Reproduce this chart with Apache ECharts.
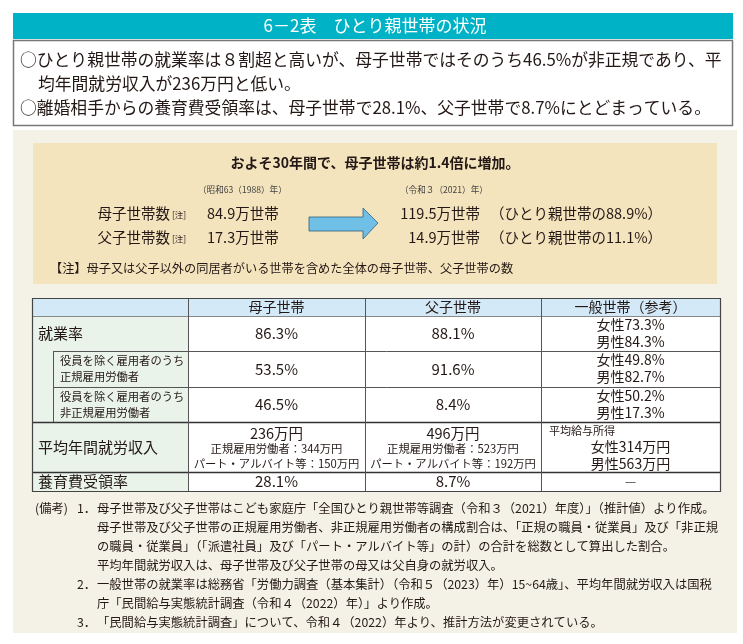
<!DOCTYPE html>
<html>
<head>
<meta charset="utf-8">
<script src="https://cdn.jsdelivr.net/npm/echarts@6/dist/echarts.min.js"></script>
<style>
  html, body { margin: 0; padding: 0; background: #fff; }
  #chart { width: 743px; height: 644px; }
</style>
</head>
<body>
<div id="chart"></div>
<script>
// data
const titleText = '6－2表　ひとり親世帯の状況'
const summaryLines = [
  '○ひとり親世帯の就業率は８割超と高いが、母子世帯ではそのうち46.5%が非正規であり、平',
  '均年間就労収入が236万円と低い。',
  '○離婚相手からの養育費受領率は、母子世帯で28.1%、父子世帯で8.7%にとどまっている。'
]
const trendHeading = 'およそ30年間で、母子世帯は約1.4倍に増加。'
const trendYears = ['（昭和63（1988）年）', '（令和３（2021）年）']
const householdTypes = ['母子世帯数', '父子世帯数']
const households1988 = ['84.9万世帯', '17.3万世帯']
const households2021 = ['119.5万世帯', '14.9万世帯']
const shareOfSingleParent = ['88.9%', '11.1%']
const trendNote = '【注】母子又は父子以外の同居者がいる世帯を含めた全体の母子世帯、父子世帯の数'

const columns = ['母子世帯', '父子世帯', '一般世帯（参考）']
const rowLabels = ['就業率', '役員を除く雇用者のうち\n正規雇用労働者', '役員を除く雇用者のうち\n非正規雇用労働者', '平均年間就労収入', '養育費受領率']
const motherValues = ['86.3%', '53.5%', '46.5%', '236万円', '28.1%']
const fatherValues = ['88.1%', '91.6%', '8.4%', '496万円', '8.7%']
const generalFemale = ['女性73.3%', '女性49.8%', '女性50.2%', '女性314万円']
const generalMale = ['男性84.3%', '男性82.7%', '男性17.3%', '男性563万円']
const generalIncomeLabel = '平均給与所得'
const generalChildSupport = '－'
const motherIncomeDetail = ['正規雇用労働者：344万円', 'パート・アルバイト等：150万円']
const fatherIncomeDetail = ['正規雇用労働者：523万円', 'パート・アルバイト等：192万円']

const notes = [
  ['(備考)', '1．', '母子世帯及び父子世帯はこども家庭庁「全国ひとり親世帯等調査（令和３（2021）年度）」（推計値）より作成。'],
  ['', '', '母子世帯及び父子世帯の正規雇用労働者、非正規雇用労働者の構成割合は、「正規の職員・従業員」及び「非正規'],
  ['', '', 'の職員・従業員」（「派遣社員」及び「パート・アルバイト等」の計）の合計を総数として算出した割合。'],
  ['', '', '平均年間就労収入は、母子世帯及び父子世帯の母又は父自身の就労収入。'],
  ['', '2．', '一般世帯の就業率は総務省「労働力調査（基本集計）（令和５（2023）年）15~64歳」、平均年間就労収入は国税'],
  ['', '', '庁「民間給与実態統計調査（令和４（2022）年）」より作成。'],
  ['', '3．', '「民間給与実態統計調査」について、令和４（2022）年より、推計方法が変更されている。']
]

const FONT = '"Noto Sans CJK JP", "Noto Sans", sans-serif'
const TEXT = '#231815'
const LINE = '#555'

const chart = echarts.init(document.getElementById('chart'))

function text(x, y, str, size, opts) {
  opts = opts || {}
  return {
    type: 'text',
    x: x,
    y: y,
    z: 10,
    style: {
      text: str,
      fill: opts.fill || TEXT,
      font: (opts.weight || 'normal') + ' ' + size + 'px ' + FONT,
      textAlign: opts.align || 'left',
      textVerticalAlign: 'middle'
    }
  }
}
function rect(x, y, w, h, fill, stroke, lw) {
  return {
    type: 'rect',
    shape: { x: x, y: y, width: w, height: h },
    style: { fill: fill, stroke: stroke || null, lineWidth: lw || 0 }
  }
}
function line(x1, y1, x2, y2, lw, color) {
  return {
    type: 'line',
    z: 5,
    shape: { x1: x1, y1: y1, x2: x2, y2: y2 },
    style: { stroke: color || LINE, lineWidth: lw || 1 }
  }
}

const g = []

// title bar + summary box
g.push(rect(13, 13, 720, 26, '#00b2c6'))
g.push(text(375, 26, titleText, 17, { fill: '#fff', align: 'center' }))
g.push(rect(13.5, 40.5, 719, 85, '#fff', '#777', 1.5))
summaryLines.forEach((s, i) => {
  g.push(text(i === 1 ? 38 : 20, 60 + i * 24, s, 16.8))
})

// beige panel and yellow trend box
g.push(rect(13, 130, 724, 503, '#f4f1e6'))
g.push(rect(33, 143, 684, 141, '#f4e4be'))
g.push(text(375, 163, trendHeading, 14, { weight: 'bold', align: 'center' }))
g.push(text(198, 190, trendYears[0], 8.6, { fill: '#444' }))
g.push(text(400, 190, trendYears[1], 8.6, { fill: '#444' }))
householdTypes.forEach((name, i) => {
  const y = 213 + i * 24
  g.push(text(170, y, name, 14.5, { align: 'right' }))
  g.push(text(172, y + 2, '[注]', 8.5))
  g.push(text(207, y, households1988[i], 14.5))
  g.push(text(480, y, households2021[i], 14.5, { align: 'right' }))
  g.push(text(490, y, '（ひとり親世帯の' + shareOfSingleParent[i] + '）', 14.5))
})
g.push({
  type: 'polygon',
  shape: { points: [[309, 217], [363, 217], [363, 208], [378, 223], [363, 239], [363, 231], [309, 231]] },
  style: { fill: '#6fbfe6', stroke: '#2f5f78', lineWidth: 0.8 }
})
g.push(text(50, 268, trendNote, 12.2))

// table
const colEdges = [32, 188, 365, 541, 720]
const rowEdges = [298, 316, 351, 387, 422, 472, 491]
const subLeft = 53
const tw = colEdges[4] - colEdges[0]
g.push(rect(colEdges[0], rowEdges[0], tw, rowEdges[1] - rowEdges[0], '#d4e9f8'))
g.push(rect(colEdges[0], rowEdges[1], colEdges[1] - colEdges[0], rowEdges[6] - rowEdges[1], '#e9f3ea'))
g.push(rect(colEdges[1], rowEdges[1], colEdges[4] - colEdges[1], rowEdges[6] - rowEdges[1], '#fff'))

columns.forEach((c, j) => {
  g.push(text((colEdges[j + 1] + colEdges[j + 2]) / 2, 307, c, 14, { align: 'center' }))
})

rowLabels.forEach((label, i) => {
  const top = rowEdges[i + 1]
  const bot = rowEdges[i + 2]
  const mid = (top + bot) / 2
  if (label.indexOf('\n') >= 0) {
    const parts = label.split('\n')
    g.push(text(60, top + 10, parts[0], 11.3))
    g.push(text(60, top + 26, parts[1], 11.3))
  } else {
    g.push(text(38, mid, label, 15))
  }
  const c1 = (colEdges[1] + colEdges[2]) / 2
  const c2 = (colEdges[2] + colEdges[3]) / 2
  const c3 = (colEdges[3] + colEdges[4]) / 2
  if (i === 3) {
    g.push(text(c1, top + 11, motherValues[i], 14.5, { align: 'center' }))
    g.push(text(c1, top + 27, motherIncomeDetail[0], 11.3, { align: 'center' }))
    g.push(text(c1, top + 42, motherIncomeDetail[1], 11.3, { align: 'center' }))
    g.push(text(c2, top + 11, fatherValues[i], 14.5, { align: 'center' }))
    g.push(text(c2, top + 27, fatherIncomeDetail[0], 11.3, { align: 'center' }))
    g.push(text(c2, top + 42, fatherIncomeDetail[1], 11.3, { align: 'center' }))
    g.push(text(549, top + 9, generalIncomeLabel, 11))
    g.push(text(c3, top + 25, generalFemale[i], 14, { align: 'center' }))
    g.push(text(c3, top + 42, generalMale[i], 14, { align: 'center' }))
  } else {
    g.push(text(c1, mid, motherValues[i], 15, { align: 'center' }))
    g.push(text(c2, mid, fatherValues[i], 15, { align: 'center' }))
    if (i < 3) {
      g.push(text(c3, top + 9, generalFemale[i], 14, { align: 'center' }))
      g.push(text(c3, top + 26, generalMale[i], 14, { align: 'center' }))
    } else {
      g.push(text(c3, mid, generalChildSupport, 14, { align: 'center', fill: '#666' }))
    }
  }
})

// grid lines
g.push(line(colEdges[0], rowEdges[1] + 0.5, colEdges[4], rowEdges[1] + 0.5, 1, '#888'))
g.push(line(subLeft, rowEdges[2] + 0.5, colEdges[4], rowEdges[2] + 0.5, 1))
g.push(line(subLeft, rowEdges[3] + 0.5, colEdges[4], rowEdges[3] + 0.5, 1))
g.push(line(colEdges[0], rowEdges[4] + 0.5, colEdges[4], rowEdges[4] + 0.5, 1.4, '#333'))
g.push(line(colEdges[0], rowEdges[5] + 0.5, colEdges[4], rowEdges[5] + 0.5, 1.4, '#333'))
g.push(line(subLeft + 0.5, rowEdges[2], subLeft + 0.5, rowEdges[4], 1))
for (let j = 1; j < 4; j++) {
  g.push(line(colEdges[j] + 0.5, rowEdges[0], colEdges[j] + 0.5, rowEdges[6], 1))
}
g.push({
  type: 'rect',
  z: 6,
  shape: { x: colEdges[0] + 0.5, y: rowEdges[0] + 0.5, width: tw, height: rowEdges[6] - rowEdges[0] },
  style: { fill: null, stroke: '#444', lineWidth: 1.2 }
})

// notes
notes.forEach((n, i) => {
  const y = 508 + i * 19
  if (n[0]) g.push(text(35, y, n[0], 12.3))
  if (n[1]) g.push(text(77, y, n[1], 12.3))
  g.push(text(97, y, n[2], 12.3))
})

chart.setOption({
  animation: false,
  graphic: { elements: g }
})
</script>
</body>
</html>
